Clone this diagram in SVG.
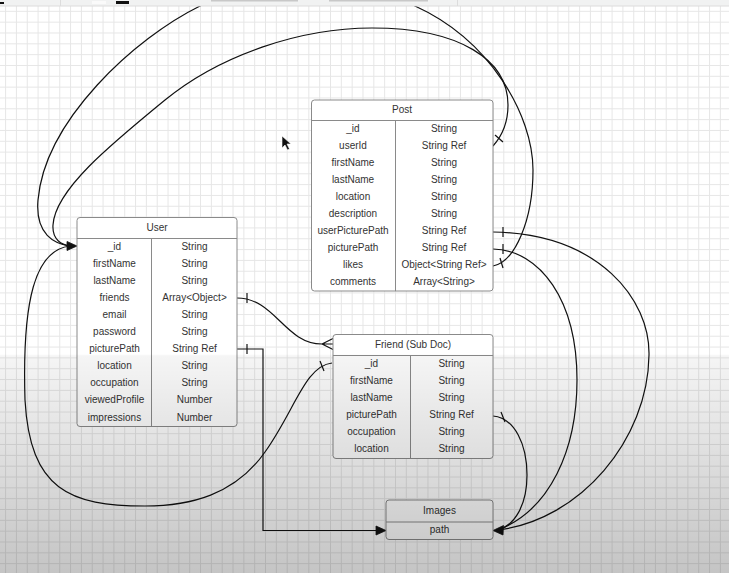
<svg xmlns="http://www.w3.org/2000/svg" width="729" height="573" viewBox="0 0 729 573">
<style>
.box{fill:#fff;stroke:#8a8a8a;stroke-width:1}
.sep{stroke:#8a8a8a;stroke-width:1;fill:none}
.t{font-family:"Liberation Sans",Arial,sans-serif;font-size:10px;fill:#333;text-anchor:middle}
.c{fill:none;stroke:#111;stroke-width:1.2}
.tick{stroke:#111;stroke-width:1.2;fill:none}
.ah{fill:#111;stroke:#111;stroke-width:0.8}
</style>
<defs>
<pattern id="grid" width="10.83" height="10.83" patternUnits="userSpaceOnUse" x="5.1" y="0">
<path d="M0.5,0V10.83M0,0.5H10.83" stroke="#e6e6e6" stroke-width="1" fill="none"/>
</pattern>
<linearGradient id="shade" x1="0" y1="0" x2="0" y2="1">
<stop offset="0" stop-color="#000" stop-opacity="0"/>
<stop offset="0.618" stop-color="#000" stop-opacity="0"/>
<stop offset="0.621" stop-color="#000" stop-opacity="0.04"/>
<stop offset="1" stop-color="#000" stop-opacity="0.23"/>
</linearGradient>
</defs>
<rect x="0" y="0" width="729" height="573" fill="#fff"/>
<rect x="0" y="0" width="729" height="573" fill="url(#grid)"/>

<g id="connectors">
<!-- Post.likes -> User._id (outer arc) -->
<path class="c" d="M493,266 C515,262 533,220 533,170 C533,115 490,40 415,6 C350,-25 265,-25 200,6 C135,38 45,120 38,200 C35,235 55,244 70,246"/>
<line class="tick" x1="500" y1="258" x2="503" y2="268"/>
<!-- Post.userId -> User._id (inner arc) -->
<path class="c" d="M493,146 C502,136 508,122 508,105 C508,60 460,28 372,28 C300,28 220,55 165,100 C110,145 55,190 53,225 C52,240 62,245 70,246"/>
<line class="tick" x1="495" y1="135" x2="503" y2="142"/>
<!-- Friend._id -> User._id -->
<path class="c" d="M332,363 C305,366 295,410 265,452 C235,495 190,506 145,506 C70,506 30,490 25,400 C22,300 35,250 70,246"/>
<line class="tick" x1="320" y1="361" x2="324" y2="371"/>
<polygon class="ah" points="77,246 67,241.5 67,250.5"/>
<!-- User.friends -> Friend (crow's foot) -->
<path class="c" d="M237,298 C275,298 285,344 322,344"/>
<line class="tick" x1="247" y1="293" x2="247" y2="303"/>
<path class="c" d="M322,344 L333,338.5 M322,344 L333,344 M322,344 L333,349.5"/>
<!-- User.picturePath -> Images.path -->
<path class="c" d="M237,349 H263 V530.5 H377"/>
<line class="tick" x1="247" y1="344" x2="247" y2="354"/>
<polygon class="ah" points="386,530.5 376,526 376,535"/>
<!-- Post.userPicturePath -> Images.path -->
<path class="c" d="M493,232 C600,234 650,300 649,355 C648,440 580,520 498,530"/>
<line class="tick" x1="503" y1="227" x2="503" y2="237"/>
<!-- Post.picturePath -> Images.path -->
<path class="c" d="M493,249 C540,250 577,300 577,380 C577,450 550,510 498,530"/>
<line class="tick" x1="503" y1="244" x2="503" y2="254"/>
<!-- Friend.picturePath -> Images.path -->
<path class="c" d="M493,416 C515,418 527,445 527,475 C527,505 515,525 498,530"/>
<line class="tick" x1="501" y1="412" x2="505" y2="422"/>
<polygon class="ah" points="493,530.5 503.5,525.5 503,535"/>
</g>

<g id="post">
<rect class="box" x="311.5" y="100" width="181.5" height="191" rx="3"/>
<path class="sep" d="M311.5,120.5H493M395.5,120.5V291"/>
<text class="t" x="402" y="113">Post</text>
<text class="t" x="353" y="131.5">_id</text><text class="t" x="444" y="131.5">String</text>
<text class="t" x="353" y="148.5">userId</text><text class="t" x="444" y="148.5">String Ref</text>
<text class="t" x="353" y="165.6">firstName</text><text class="t" x="444" y="165.6">String</text>
<text class="t" x="353" y="182.7">lastName</text><text class="t" x="444" y="182.7">String</text>
<text class="t" x="353" y="199.8">location</text><text class="t" x="444" y="199.8">String</text>
<text class="t" x="353" y="216.9">description</text><text class="t" x="444" y="216.9">String</text>
<text class="t" x="353" y="234">userPicturePath</text><text class="t" x="444" y="234">String Ref</text>
<text class="t" x="353" y="251.1">picturePath</text><text class="t" x="444" y="251.1">String Ref</text>
<text class="t" x="353" y="268.2">likes</text><text class="t" x="444" y="268.2">Object&lt;String Ref&gt;</text>
<text class="t" x="353" y="285.3">comments</text><text class="t" x="444" y="285.3">Array&lt;String&gt;</text>
</g>

<g id="user">
<rect class="box" x="77" y="217.5" width="160" height="209" rx="3"/>
<path class="sep" d="M77,238.5H237M151.5,238.5V426.5"/>
<text class="t" x="157" y="230.5">User</text>
<text class="t" x="114.5" y="249.5">_id</text><text class="t" x="194.5" y="249.5">String</text>
<text class="t" x="114.5" y="266.6">firstName</text><text class="t" x="194.5" y="266.6">String</text>
<text class="t" x="114.5" y="283.7">lastName</text><text class="t" x="194.5" y="283.7">String</text>
<text class="t" x="114.5" y="300.8">friends</text><text class="t" x="194.5" y="300.8">Array&lt;Object&gt;</text>
<text class="t" x="114.5" y="317.9">email</text><text class="t" x="194.5" y="317.9">String</text>
<text class="t" x="114.5" y="335">password</text><text class="t" x="194.5" y="335">String</text>
<text class="t" x="114.5" y="352.1">picturePath</text><text class="t" x="194.5" y="352.1">String Ref</text>
<text class="t" x="114.5" y="369.2">location</text><text class="t" x="194.5" y="369.2">String</text>
<text class="t" x="114.5" y="386.3">occupation</text><text class="t" x="194.5" y="386.3">String</text>
<text class="t" x="114.5" y="403.4">viewedProfile</text><text class="t" x="194.5" y="403.4">Number</text>
<text class="t" x="114.5" y="420.5">impressions</text><text class="t" x="194.5" y="420.5">Number</text>
</g>

<g id="friend">
<rect class="box" x="333" y="334.5" width="160" height="124" rx="3"/>
<path class="sep" d="M333,355.5H493M410.5,355.5V458.5"/>
<text class="t" x="413" y="347.5">Friend (Sub Doc)</text>
<text class="t" x="371.5" y="366.8">_id</text><text class="t" x="451.5" y="366.8">String</text>
<text class="t" x="371.5" y="383.8">firstName</text><text class="t" x="451.5" y="383.8">String</text>
<text class="t" x="371.5" y="400.8">lastName</text><text class="t" x="451.5" y="400.8">String</text>
<text class="t" x="371.5" y="417.8">picturePath</text><text class="t" x="451.5" y="417.8">String Ref</text>
<text class="t" x="371.5" y="434.8">occupation</text><text class="t" x="451.5" y="434.8">String</text>
<text class="t" x="371.5" y="451.8">location</text><text class="t" x="451.5" y="451.8">String</text>
</g>

<g id="images">
<rect class="box" x="386" y="500" width="107" height="39.5" rx="3"/>
<path class="sep" d="M386,522H493"/>
<text class="t" x="439.5" y="513.5">Images</text>
<text class="t" x="439.5" y="533">path</text>
</g>

<path d="M282,136 V148 L285,145 L287.5,150 L289.5,149 L287,144 H291 Z" fill="#111" stroke="#fff" stroke-width="0.6"/>

<rect x="0" y="0" width="729" height="573" fill="url(#shade)"/>

<g id="toolbar">
<rect x="0" y="0" width="729" height="6" fill="#f1f2f2"/>
<line x1="0" y1="6" x2="729" y2="6" stroke="#dcdcdc" stroke-width="1"/>
<rect x="0" y="2" width="4" height="2" fill="#111"/>
<line x1="60.5" y1="0" x2="60.5" y2="6" stroke="#dcdcdc"/>
<rect x="116" y="1" width="13" height="3" fill="#111"/>
<rect x="92" y="1" width="14" height="3" fill="#fafafa"/>
<rect x="211" y="0" width="87" height="1.5" fill="#c8c8c8"/>
<rect x="329" y="0" width="99" height="1.5" fill="#c8c8c8"/>
<line x1="457.5" y1="0" x2="457.5" y2="6" stroke="#dcdcdc"/>
</g>
</svg>
